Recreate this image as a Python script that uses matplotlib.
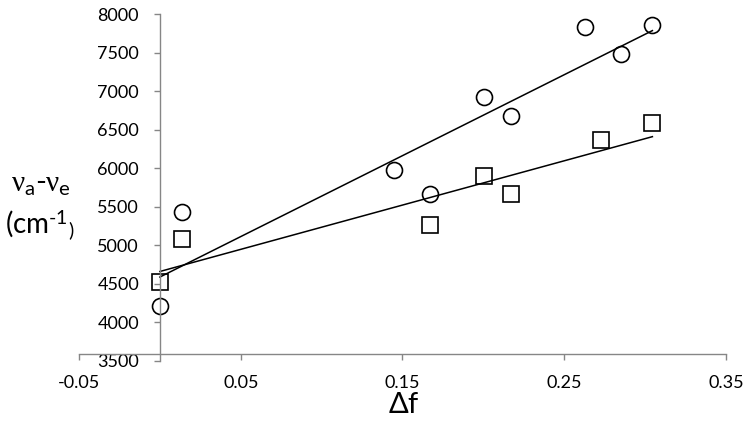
import numpy as np
import matplotlib
matplotlib.use("Agg")
import matplotlib.pyplot as plt

plt.rcParams['font.family'] = ['Lato', 'DejaVu Sans']
plt.rcParams['mathtext.fontset'] = 'custom'
plt.rcParams['mathtext.rm'] = 'Lato'
plt.rcParams['mathtext.it'] = 'Liberation Serif'

# circles
circle_x = [0.000, 0.0138, 0.1446, 0.1673, 0.2002, 0.2173, 0.263, 0.285, 0.3045]
circle_y = [4210, 5430, 5970, 5670, 6920, 6675, 7825, 7480, 7855]
# squares
square_x = [0.000, 0.0138, 0.1673, 0.2002, 0.2173, 0.273, 0.3045]
square_y = [4520, 5080, 5255, 5900, 5660, 6365, 6585]

x_ticks = [-0.05, 0.05, 0.15, 0.25, 0.35]
x_labels = ['-0.05', '0.05', '0.15', '0.25', '0.35']
y_ticks = list(range(3500, 8001, 500))

axis_grey = '#868686'

fig = plt.figure(figsize=(7.51, 4.38), dpi=100)
ax = fig.add_axes([0.1052, 0.1765, 0.8615, 0.7915])

ax.plot(circle_x, circle_y, 'o', ms=11.5, mfc='none', mec='black', mew=1.2)
ax.plot(square_x, square_y, 's', ms=11.5, mfc='none', mec='black', mew=1.2)

# linear trendlines over the data range
for xs, ys in [(circle_x, circle_y), (square_x, square_y)]:
    m, b = np.polyfit(xs, ys, 1)
    xx = np.array([min(xs), max(xs)])
    ax.plot(xx, m * xx + b, color='black', lw=1.1)

ax.set_xlim(-0.05, 0.35)
ax.set_ylim(3500, 8000)
ax.set_xticks(x_ticks)
ax.set_xticklabels(x_labels)
ax.set_yticks(y_ticks)

ax.spines['top'].set_visible(False)
ax.spines['right'].set_visible(False)
ax.spines['left'].set_position(('data', 0))
ax.spines['bottom'].set_position(('data', 3590))
for s in ['left', 'bottom']:
    ax.spines[s].set_color(axis_grey)
    ax.spines[s].set_linewidth(1.0)

ax.tick_params(axis='both', direction='out', length=4.5, width=1.0,
               color=axis_grey, labelsize=13, labelcolor='black')
ax.tick_params(axis='y', pad=10.5)
ax.tick_params(axis='x', pad=11)

fig.text(0.538, 0.075, r'$\Delta$f', fontsize=21, ha='center', va='center')
fig.text(0.055, 0.578, r'$\nu_\mathrm{a}$-$\nu_\mathrm{e}$', fontsize=21,
         ha='center', va='center')
fig.text(0.053, 0.487, r'(cm$^\text{-1}$$_\mathrm{)}$', fontsize=20,
         ha='center', va='center')

fig.savefig('out.png', dpi=100)
